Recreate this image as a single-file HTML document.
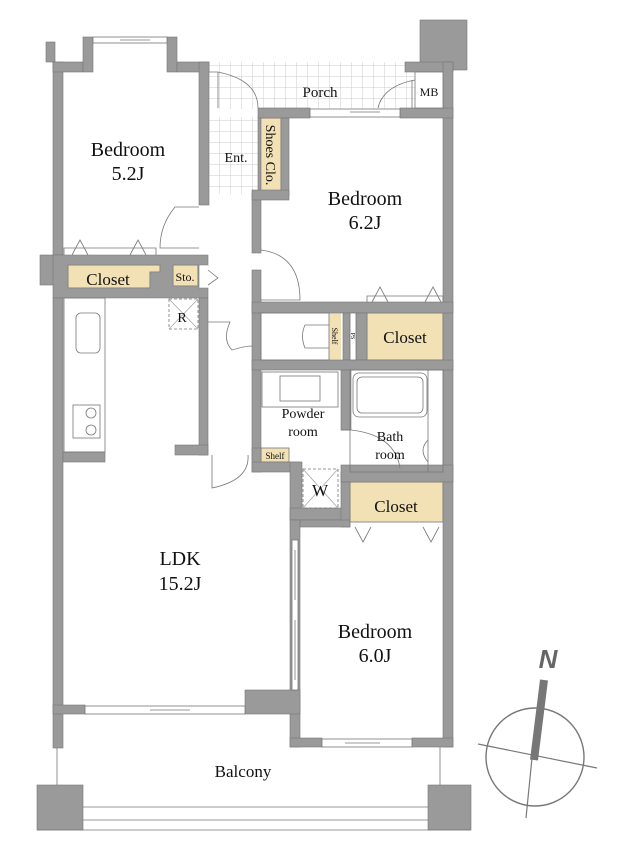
<!DOCTYPE html>
<html><head><meta charset="utf-8"><style>
html,body{margin:0;padding:0;background:#fff;}
svg{display:block;}
text{font-family:"Liberation Serif",serif;fill:#111;}
</style></head><body>
<svg width="623" height="865" viewBox="0 0 623 865" xmlns="http://www.w3.org/2000/svg">
<defs>
<pattern id="tile" width="11" height="11" patternUnits="userSpaceOnUse">
<rect width="11" height="11" fill="#fff"/>
<path d="M11 0V11M0 11H11" stroke="#ccc" stroke-width="1"/>
</pattern>
</defs>
<!-- tiled areas -->
<rect x="209" y="62" width="206" height="47" fill="url(#tile)"/>
<rect x="209" y="117" width="50" height="77" fill="url(#tile)"/>
<!-- tan closets -->
<g fill="#f3e1b6" stroke="#777" stroke-width="0.8">
<path d="M68 265H160V272H150V288H68Z"/>
<rect x="173" y="265" width="25" height="21"/>
<rect x="260" y="118" width="21" height="75"/>
<rect x="367" y="313" width="76" height="47"/>
<rect x="350" y="482" width="93" height="40"/>
<rect x="261" y="448" width="28" height="14"/>
<rect x="329" y="313" width="12" height="47" stroke="none"/>
</g>
<!-- walls -->
<g fill="#9a9a9a" stroke="#777" stroke-width="0.6">
<!-- top left -->
<rect x="46" y="42" width="9" height="20"/>
<rect x="53" y="62" width="10" height="193"/>
<rect x="53" y="62" width="30" height="10"/>
<rect x="83" y="37" width="10" height="35"/>
<rect x="167" y="37" width="10" height="35"/>
<rect x="177" y="62" width="32" height="10"/>
<rect x="199" y="62" width="10" height="143"/>
<!-- closet band -->
<rect x="40" y="255" width="23" height="30"/>
<path d="M53 255H208V265H199V288H208V298H53ZM68 265V288H150V272H160V265ZM173 265V286H198V265Z" fill-rule="evenodd"/>
<!-- left wall -->
<rect x="53" y="298" width="10" height="450"/>
<rect x="63" y="452" width="42" height="10"/>
<rect x="199" y="298" width="9" height="157"/>
<rect x="175" y="445" width="33" height="10"/>
<!-- top right -->
<rect x="420" y="20" width="47" height="50"/>
<rect x="405" y="62" width="48" height="10"/>
<rect x="443" y="62" width="10" height="685"/>
<rect x="258" y="108" width="52" height="10"/>
<rect x="400" y="108" width="53" height="10"/>
<rect x="252" y="193" width="9" height="60"/>
<rect x="252" y="270" width="9" height="190"/>
<rect x="258" y="118" width="3" height="75"/>
<rect x="281" y="118" width="8" height="78"/>
<rect x="252" y="190" width="37" height="10"/>
<!-- middle horizontal walls -->
<rect x="252" y="302" width="201" height="11"/>
<rect x="343" y="313" width="7" height="47"/>
<rect x="356" y="313" width="11" height="47"/>
<rect x="252" y="360" width="201" height="10"/>
<rect x="341" y="370" width="10" height="60"/>
<rect x="341" y="472" width="10" height="10"/>
<rect x="341" y="465" width="112" height="17"/>
<rect x="252" y="448" width="9" height="24"/>
<rect x="252" y="462" width="48" height="10"/>
<rect x="290" y="462" width="12" height="58"/>
<rect x="290" y="508" width="60" height="12"/>
<rect x="341" y="482" width="9" height="45"/>
<rect x="300" y="520" width="50" height="7"/>
<!-- bedroom 6.0 left wall -->
<rect x="290" y="520" width="10" height="227"/>
<!-- LDK bottom -->
<rect x="53" y="705" width="32" height="9"/>
<rect x="245" y="690" width="55" height="24"/>
<rect x="290" y="738" width="32" height="9"/>
<rect x="412" y="738" width="41" height="9"/>
<!-- balcony pillars -->
<rect x="37" y="785" width="46" height="45"/>
<rect x="428" y="785" width="43" height="45"/>
</g>
<!-- windows -->
<g fill="#fff" stroke="#777" stroke-width="0.8">
<rect x="93" y="37" width="74" height="6"/>
<rect x="310" y="109" width="90" height="8"/>
<rect x="85" y="706" width="160" height="8"/>
<rect x="322" y="739" width="90" height="8"/>
<rect x="292" y="540" width="6" height="150"/>
<rect x="415" y="72" width="28" height="36"/>
<rect x="350" y="313" width="6" height="47"/>
</g>
<g stroke="#777" stroke-width="0.8" fill="none">
<path d="M120 40H150M350 112H380M150 710H190M345 743H380M295 550V600M295 620V680"/>
<!-- balcony -->
<path d="M57 748V785M440 747V785M83 807H428M83 820H428M37 830H471"/>
<!-- doors -->
<path d="M209 72H218Q258 80 258 108"/>
<path d="M218 72V108"/>
<path d="M415 80Q383 86 378 108M412 80V108"/>
<path d="M199 207H175Q160 225 160 248H199"/>
<path d="M261 250Q300 255 300 300H261"/>
<path d="M208 322H230Q222 340 232 350Q245 346 252 346"/>
<path d="M212 455V488Q250 480 248 455"/>
<path d="M341 430H351Q395 435 400 468"/>
<!-- closet door triangles -->
<path d="M72 255L80 240L88 255M130 255L138 240L146 255M372 302L380 287L388 302M425 302L433 287L441 302M355 527L363 542L371 527M423 527L431 542L439 527"/>
<path d="M64 255V248H156V255M367 302V296H443V302"/>
<!-- sto arrow -->
<path d="M208 270L218 278L208 285"/>
<!-- kitchen -->
<rect x="64" y="298" width="41" height="154"/>
<rect x="76" y="313" width="24" height="40" rx="5"/>
<rect x="73" y="405" width="27" height="33"/>
<circle cx="91" cy="413" r="5"/><circle cx="91" cy="430" r="5"/>
<!-- toilet -->
<rect x="261" y="313" width="68" height="47"/>
<path d="M329 325H305Q300 336 305 348H329"/>
<!-- powder sink -->
<rect x="262" y="372" width="76" height="35"/>
<rect x="280" y="376" width="40" height="25"/>
<!-- bath tub -->
<rect x="353" y="373" width="74" height="44" rx="6"/>
<rect x="357" y="377" width="66" height="36" rx="5"/>
<rect x="350" y="370" width="93" height="102"/>
<path d="M428 370V472M428 440Q418 450 428 462"/>
</g>
<!-- dashed boxes -->
<g stroke="#777" stroke-width="0.8" fill="none" stroke-dasharray="3,2">
<rect x="169" y="299" width="29" height="30"/>
<rect x="303" y="469" width="35" height="39"/>
</g>
<g stroke="#999" stroke-width="0.6"><path d="M169 299L198 329M198 299L169 329M303 469L338 508M338 469L303 508"/></g>
<!-- compass -->
<g stroke="#777" fill="none">
<circle cx="535" cy="757" r="49" stroke-width="1.4"/>
<path d="M478 744L597 768" stroke-width="1.2"/>
<path d="M532 758L526 818" stroke-width="1.2"/>
<path d="M544 680L534 760" stroke-width="8" stroke="#777"/>
</g>
<text x="548" y="668" font-family="Liberation Sans,sans-serif" font-weight="bold" font-style="italic" font-size="26" fill="#666" text-anchor="middle" style="font-family:'Liberation Sans',sans-serif;fill:#666">N</text>
<!-- labels -->
<g text-anchor="middle">
<text x="128" y="156" font-size="20">Bedroom</text>
<text x="128" y="180" font-size="20">5.2J</text>
<text x="365" y="205" font-size="20">Bedroom</text>
<text x="365" y="229" font-size="20">6.2J</text>
<text x="320" y="97" font-size="15">Porch</text>
<text x="429" y="96" font-size="12">MB</text>
<text x="236" y="162" font-size="14">Ent.</text>
<text x="108" y="285" font-size="17">Closet</text>
<text x="185" y="281" font-size="12">Sto.</text>
<text x="182" y="322" font-size="14">R</text>
<text x="405" y="343" font-size="17">Closet</text>
<text x="303" y="418" font-size="14">Powder</text>
<text x="303" y="436" font-size="14">room</text>
<text x="390" y="441" font-size="14">Bath</text>
<text x="390" y="459" font-size="14">room</text>
<text x="275" y="459" font-size="9">Shelf</text>
<text x="320" y="496" font-size="17">W</text>
<text x="396" y="512" font-size="17">Closet</text>
<text x="180" y="565" font-size="20">LDK</text>
<text x="180" y="590" font-size="20">15.2J</text>
<text x="375" y="638" font-size="20">Bedroom</text>
<text x="375" y="662" font-size="20">6.0J</text>
<text x="243" y="777" font-size="17">Balcony</text>
<text transform="translate(266,155) rotate(90)" font-size="14">Shoes Clo.</text>
<text transform="translate(332,336) rotate(90)" font-size="8">Shelf</text>
<text transform="translate(351,336) rotate(90)" font-size="6">PS</text>
</g>
</svg>
</body></html>
